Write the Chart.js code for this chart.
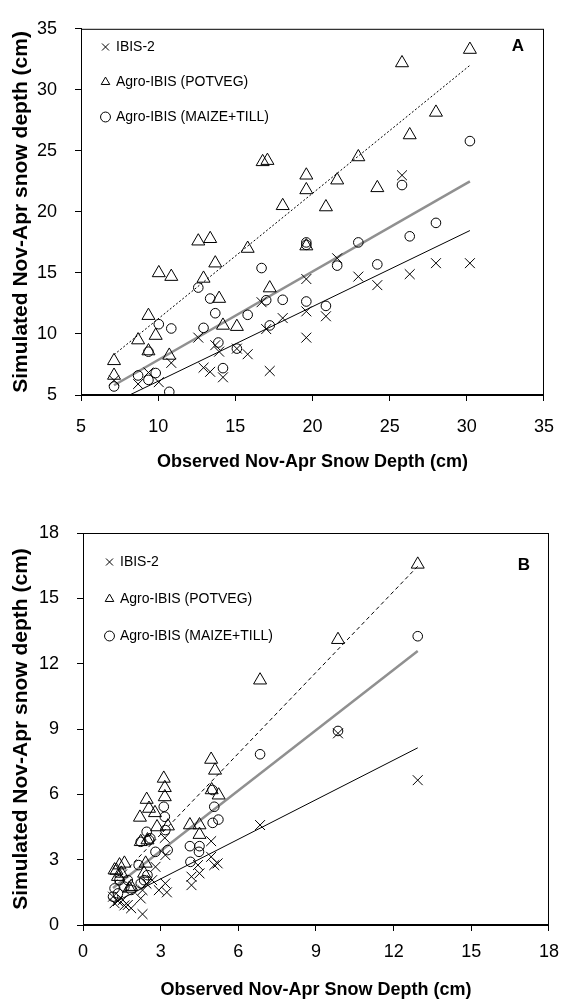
<!DOCTYPE html>
<html>
<head>
<meta charset="utf-8">
<title>Simulated vs observed snow depth</title>
<script src="https://cdn.jsdelivr.net/npm/chart.js@4.4.1/dist/chart.umd.min.js"></script>
<style>
    html, body { margin: 0; padding: 0; background: #fff; }
    .panel { position: absolute; left: 0; width: 569px; }
    #wrapA { top: 0; height: 500px; }
    #wrapB { top: 500px; height: 503px; }
</style>
</head>
<body>
<div class="panel" id="wrapA"><canvas id="chartA" width="569" height="500"></canvas></div>
<div class="panel" id="wrapB"><canvas id="chartB" width="569" height="503"></canvas></div>
<script>
;
(function(window, document) {
    'use strict';

    // ---- data ----
    const seriesNames = ['IBIS-2', 'Agro-IBIS (POTVEG)', 'Agro-IBIS (MAIZE+TILL)'];

    // panel A
    const ibisObsA   = [7.14, 8.7, 9.37, 10.04, 10.85, 12.6, 12.94, 13.37, 13.7, 13.95, 14.2, 15.1, 15.8, 16.7, 17.0, 17.23, 18.07, 19.6, 19.6, 19.6, 20.87, 21.6, 22.97, 24.2, 25.8, 26.3, 28.0, 30.2];
    const ibisSimA   = [6.2, 5.9, 6.84, 6.05, 7.63, 9.7, 7.24, 6.9, 9.08, 8.55, 6.45, 8.8, 8.34, 12.6, 10.4, 6.97, 11.3, 14.5, 11.85, 9.7, 11.45, 16.2, 14.7, 14.0, 23.0, 14.9, 15.8, 15.8];
    const potvegObsA = [7.14, 7.14, 8.7, 9.37, 9.37, 9.84, 10.04, 10.85, 10.72, 12.6, 13.37, 12.94, 13.7, 13.95, 14.2, 15.1, 15.8, 16.77, 17.08, 17.23, 18.07, 19.6, 19.6, 19.6, 20.87, 21.6, 22.97, 24.2, 25.8, 26.3, 28.0, 30.2];
    const potvegSimA = [7.8, 6.6, 9.5, 11.5, 8.6, 9.87, 15.0, 14.7, 8.24, 17.6, 17.8, 14.55, 15.8, 12.9, 10.7, 10.6, 17.0, 24.1, 24.2, 13.76, 20.5, 23.0, 21.8, 17.2, 20.4, 22.6, 24.5, 21.97, 32.2, 26.3, 28.15, 33.3];
    const maizeObsA  = [7.14, 8.7, 9.37, 9.84, 9.37, 10.04, 10.85, 10.72, 12.6, 12.94, 13.37, 13.7, 13.9, 14.2, 15.1, 15.8, 16.7, 17.23, 17.0, 18.07, 19.6, 19.6, 19.6, 20.87, 21.6, 22.97, 24.2, 25.8, 26.3, 28.0, 30.2];
    const maizeSimA  = [5.7, 6.6, 6.24, 6.8, 8.55, 10.8, 10.45, 5.26, 13.8, 10.5, 12.9, 11.7, 9.3, 7.2, 8.8, 11.57, 15.4, 10.7, 12.76, 12.8, 12.66, 17.5, 17.3, 12.3, 15.6, 17.5, 15.7, 22.2, 18.0, 19.1, 25.8];
    const fitSlopeA     = [0.611, 1.028, 0.724];
    const fitInterceptA = [0.02, 0.96, 0.63];
    const ticksA = [5, 10, 15, 20, 25, 30, 35];

    // panel B
    const ibisObsB   = [1.16, 1.22, 1.35, 1.54, 1.6, 1.73, 1.86, 2.23, 2.3, 2.3, 2.45, 2.67, 2.8, 2.93, 3.18, 3.24, 3.18, 3.16, 4.19, 4.19, 4.5, 4.44, 4.95, 4.95, 5.07, 5.2, 6.84, 9.85, 12.93];
    const ibisSimB   = [1.3, 1.0, 1.1, 1.15, 0.9, 0.92, 0.77, 1.22, 0.5, 1.6, 1.9, 2.06, 2.67, 1.6, 1.91, 1.5, 3.21, 4.0, 1.83, 2.22, 2.37, 2.75, 3.13, 3.85, 2.75, 2.83, 4.59, 8.8, 6.65];
    const potvegObsB = [1.22, 1.29, 1.35, 1.41, 1.6, 1.48, 1.79, 1.86, 2.23, 2.49, 2.36, 2.42, 2.2, 2.46, 2.55, 2.78, 2.86, 3.12, 3.16, 3.16, 3.28, 4.13, 4.5, 4.5, 4.95, 5.1, 4.97, 5.24, 6.84, 9.85, 12.93];
    const potvegSimB = [2.52, 2.5, 2.22, 2.75, 2.83, 2.37, 1.68, 1.76, 3.82, 3.9, 2.37, 2.83, 4.94, 5.76, 5.35, 5.15, 4.5, 6.73, 6.3, 5.88, 4.54, 4.59, 4.59, 4.15, 7.6, 7.1, 6.2, 5.96, 11.24, 13.1, 16.56];
    const maizeObsB  = [1.16, 1.22, 1.35, 1.41, 1.6, 1.73, 1.86, 2.23, 2.36, 2.49, 2.15, 2.23, 2.46, 2.55, 2.6, 2.8, 3.27, 3.12, 3.16, 3.18, 4.13, 4.5, 4.48, 4.15, 5.0, 5.07, 5.01, 5.23, 6.84, 9.85, 12.93];
    const maizeSimB  = [1.3, 1.68, 1.45, 2.06, 1.76, 2.06, 1.61, 1.91, 2.06, 2.29, 2.75, 3.82, 4.28, 3.9, 3.98, 3.36, 3.44, 5.43, 4.97, 4.36, 3.62, 3.62, 3.36, 2.9, 6.2, 5.43, 4.69, 4.84, 7.84, 8.91, 13.26];
    const fitSlopeB     = [0.606, 1.24, 0.924];
    const fitInterceptB = [0.3, 0.44, 0.63];
    const ticksB = [0, 3, 6, 9, 12, 15, 18];

    const FONT = "'Liberation Sans', Arial, Helvetica, sans-serif";

    let snowCharts = (function () {

        let $public = {};
        let $private = {};

        $private.points = function(xs, ys) {
            return xs.map(function(x, i) { return {x: x, y: ys[i]}; });
        };

        $private.fit = function(xs, slope, intercept) {
            let lo = Math.min.apply(null, xs);
            let hi = Math.max.apply(null, xs);
            return [{x: lo, y: slope * lo + intercept}, {x: hi, y: slope * hi + intercept}];
        };

        // box round the plot area
        $private.frame = {
            id: 'frame',
            afterDatasetsDraw: function(chart) {
                let a = chart.chartArea;
                let ctx = chart.ctx;
                ctx.save();
                ctx.strokeStyle = '#000';
                ctx.lineWidth = 1;
                ctx.strokeRect(a.left + 0.5, a.top + 0.5, a.right - a.left - 1, a.bottom - a.top - 1);
                ctx.restore();
            }
        };

        $private.panelLabel = {
            id: 'panelLabel',
            afterDraw: function(chart, args, opts) {
                let a = chart.chartArea;
                let ctx = chart.ctx;
                ctx.save();
                ctx.font = 'bold 17px ' + FONT;
                ctx.fillStyle = '#000';
                ctx.textAlign = 'center';
                ctx.textBaseline = 'middle';
                ctx.fillText(opts.text, a.right - opts.dx, a.top + opts.dy);
                ctx.restore();
            }
        };

        $private.create = function(element, cfg) {
            let canvas = document.getElementById(element);
            let s = cfg.series;
            let datasets = [
                {label: seriesNames[0], data: $private.points(s[0][0], s[0][1]), pointStyle: 'crossRot', pointRadius: 7,
                 borderColor: '#000', backgroundColor: 'rgba(0,0,0,0)', borderWidth: 1, showLine: false},
                {label: seriesNames[1], data: $private.points(s[1][0], s[1][1]), pointStyle: 'triangle', pointRadius: 7.5,
                 borderColor: '#000', backgroundColor: 'rgba(0,0,0,0)', borderWidth: 1, showLine: false},
                {label: seriesNames[2], data: $private.points(s[2][0], s[2][1]), pointStyle: 'circle', pointRadius: 4.8,
                 borderColor: '#000', backgroundColor: 'rgba(0,0,0,0)', borderWidth: 1, showLine: false},
                {label: 'fit0', data: $private.fit(s[0][0], cfg.slope[0], cfg.intercept[0]), showLine: true, pointRadius: 0,
                 borderColor: '#000', borderWidth: 1},
                {label: 'fit1', data: $private.fit(s[1][0], cfg.slope[1], cfg.intercept[1]), showLine: true, pointRadius: 0,
                 borderColor: '#000', borderWidth: 1, borderDash: cfg.dash},
                {label: 'fit2', data: $private.fit(s[2][0], cfg.slope[2], cfg.intercept[2]), showLine: true, pointRadius: 0,
                 borderColor: '#909090', borderWidth: 2.5}
            ];

            let ticks = cfg.ticks;
            let axisTicks = {
                stepSize: ticks[1] - ticks[0],
                color: '#000',
                font: {family: FONT, size: 18}
            };
            let grid = {display: true, drawOnChartArea: false, drawTicks: true, tickLength: 6, color: '#000'};

            return new Chart(canvas, {
                type: 'scatter',
                data: {datasets: datasets},
                options: {
                    responsive: false,
                    animation: false,
                    events: [],
                    layout: {padding: cfg.padding},
                    scales: {
                        x: {
                            type: 'linear', min: ticks[0], max: ticks[ticks.length - 1],
                            ticks: Object.assign({}, axisTicks, {padding: cfg.xTickPad}),
                            grid: grid,
                            border: {display: true, color: '#000'},
                            title: {display: true, text: 'Observed Nov-Apr Snow Depth (cm)', color: '#000',
                                    font: {family: FONT, size: 18, weight: 'bold'}, padding: {top: 0, bottom: cfg.xTitlePad}},
                            afterFit: function(scale) { scale.height = cfg.xHeight; }
                        },
                        y: {
                            type: 'linear', min: ticks[0], max: ticks[ticks.length - 1],
                            ticks: Object.assign({}, axisTicks, {padding: 18}),
                            grid: grid,
                            border: {display: true, color: '#000'},
                            title: {display: true, text: 'Simulated Nov-Apr snow depth (cm)', color: '#000',
                                    font: {family: FONT, size: 21, weight: 'bold'}, padding: {top: 9, bottom: 0}},
                            afterFit: function(scale) { scale.width = cfg.yWidth; }
                        }
                    },
                    plugins: {
                        tooltip: {enabled: false},
                        legend: {
                            position: 'chartArea',
                            align: 'start',
                            // empty title only pushes the items down into place
                            title: {display: true, text: '', padding: 0, font: {size: cfg.legendTop, lineHeight: 1}},
                            labels: {
                                usePointStyle: true,
                                boxWidth: 7,
                                boxHeight: 7,
                                padding: cfg.legendPad,
                                color: '#000',
                                font: {family: FONT, size: 14},
                                filter: function(item) { return item.datasetIndex < 3; }
                            }
                        },
                        panelLabel: cfg.label
                    }
                },
                plugins: [$private.frame, $private.panelLabel]
            });
        };

        $public.panelA = function() {
            return $private.create('chartA', {
                series: [[ibisObsA, ibisSimA], [potvegObsA, potvegSimA], [maizeObsA, maizeSimA]],
                slope: fitSlopeA, intercept: fitInterceptA, ticks: ticksA, dash: [2, 2],
                padding: {top: 15, right: 13, left: 0, bottom: 0},
                xHeight: 105, yWidth: 81, xTickPad: 15, xTitlePad: 27, legendPad: 21, legendTop: 19,
                label: {text: 'A', dx: 26, dy: 18}
            });
        };

        $public.panelB = function() {
            return $private.create('chartB', {
                series: [[ibisObsB, ibisSimB], [potvegObsB, potvegSimB], [maizeObsB, maizeSimB]],
                slope: fitSlopeB, intercept: fitInterceptB, ticks: ticksB, dash: [4, 3],
                padding: {top: 33, right: 12, left: 0, bottom: 0},
                xHeight: 78, yWidth: 83, xTickPad: 10, xTitlePad: 2, legendPad: 23, legendTop: 32,
                label: {text: 'B', dx: 25, dy: 32}
            });
        };

        return $public;
    })();

    snowCharts.panelA();
    snowCharts.panelB();

})(window, document);
</script>
</body>
</html>
